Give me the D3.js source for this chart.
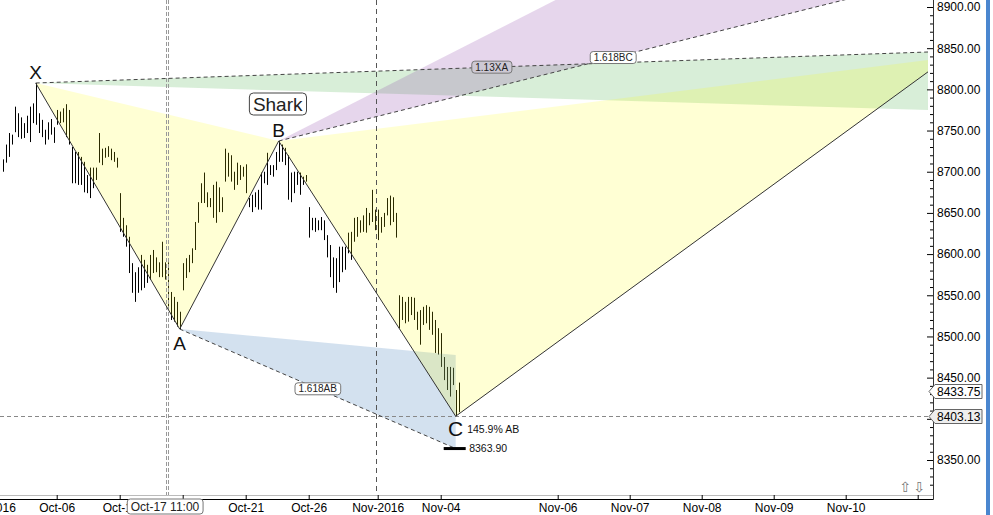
<!DOCTYPE html>
<html><head><meta charset="utf-8">
<script src="https://cdn.jsdelivr.net/npm/d3@7"></script>
<style>
body{margin:0;background:#fff;overflow:hidden;}
svg{display:block;font-family:"Liberation Sans",Arial,sans-serif;}
</style></head><body>
<svg id="chart" width="993" height="515"></svg>
<script>
// bar highs / lows (one bar every index)
const highs = [
8715,8733,8747,8745,8779,8771,8766,8759,8768,8779,
8783,8807.7,8771,8763,8751,8760,8764,8754,8775,8773,
8777,8782,8775,8730,8724,8724,8718,8712,8696,8705,
8705,8705,8747,8728,8729,8731,8728,8724,8717,8674,
8644,8635,8621,8589,8578,8584,8599,8593,8587,8599,
8605,8596,8590,8615,8590,8590,8554,8548,8542,8530,
8589,8595,8599,8607,8639,8663,8686,8699,8675,8668,
8684,8688,8681,8669,8728,8723,8720,8700,8711,8708,
8706,8709,8668,8672,8675,8678,8699,8700,8723,8708,
8708,8724,8737.3,8733,8729,8720,8699,8700,8700,8699,
8694,8696,8657,8644,8644,8641,8645,8641,8623,8611,
8596,8595,8609,8609,8609,8626,8627,8644,8645,8641,
8647,8656,8650,8678,8654,8654,8645,8650,8668,8671,
8669,8650,8550,8548,8542,8548,8548,8547,8530,8532,
8536,8538,8536,8530,8520,8510,8504,8475,8463,8463,
8462,8435,8444];
const lows = [
8700,8711,8718,8733,8748,8742,8740,8741,8747,8736,
8759,8757,8747,8742,8733,8739,8745,8735,8757,8759,
8760,8742,8733,8686,8686,8684,8684,8675,8674,8668,
8680,8690,8711,8708,8717,8718,8714,8712,8705,8627,
8621,8609,8577,8553,8542,8553,8556,8559,8565,8569,
8577,8578,8572,8572,8569,8536,8520,8518,8512,8509,
8556,8571,8578,8589,8605,8638,8662,8662,8657,8657,
8644,8638,8651,8651,8688,8694,8688,8678,8684,8690,
8694,8674,8657,8651,8657,8654,8654,8686,8684,8696,
8694,8702,8712,8712,8708,8666,8663,8674,8684,8672,
8684,8688,8620,8629,8627,8629,8629,8617,8596,8572,
8559,8553,8566,8578,8581,8601,8593,8615,8621,8626,
8627,8626,8635,8639,8629,8617,8626,8633,8647,8635,
8639,8620,8510,8520,8516,8518,8526,8520,8508,8490,
8514,8516,8508,8502,8480,8478,8463,8447,8435,8427,
8441,8403.13,8408];

// pattern points
const pointNames = ["X", "A", "B", "C"];
const pointIdx = [11, 59, 92, 151];
const pointPrice = [8807.7, 8509.0, 8737.3, 8403.13];
const dIdx = 315, dPrice = 8838.7;
const xaBand = [8846.2, 8774.2];   // 1.13XA band end (top, bottom)
const bcBand = [9151, 8940];       // 1.618BC band end
const abBand = [8477.5, 8363.9];   // 1.618AB band end at C
const lastClose = 8433.75;

const tickIdx = [-4, 18, 39, 60, 81, 102, 125, 146, 185, 209, 233, 257, 281, 305];
const tickLabels = ["Oct-2016", "Oct-06", "Oct-11", "Oct-17", "Oct-21", "Oct-26", "Nov-2016", "Nov-04",
  "Nov-06", "Nov-07", "Nov-08", "Nov-09", "Nov-10", ""];
const yTicks = d3.range(8350, 8901, 50);
const yMinor = d3.range(8320, 8911, 10).filter(v => v % 50 !== 0);

const svg = d3.select("#chart");
const x = d3.scaleLinear().domain([0, 308]).range([2.7, 926.7]);
const y = d3.scaleLinear().domain([8350, 8900]).range([460, 7]);

svg.append("defs").append("clipPath").attr("id", "plot")
  .append("rect").attr("x", 0).attr("y", 0).attr("width", 928).attr("height", 495);

const plot = svg.append("g").attr("clip-path", "url(#plot)");

// bars
plot.append("g").selectAll("line").data(highs).join("line")
  .attr("x1", (d, i) => Math.round(x(i)) + 0.5)
  .attr("x2", (d, i) => Math.round(x(i)) + 0.5)
  .attr("y1", d => y(d))
  .attr("y2", (d, i) => y(lows[i]))
  .attr("stroke", "#000").attr("stroke-width", 1);

const P = i => [x(pointIdx[i]), y(pointPrice[i])];
const D = [x(dIdx), y(dPrice)];
const poly = (pts, fill) => plot.append("polygon")
  .attr("points", pts.map(p => p.join(",")).join(" ")).attr("fill", fill);

poly([P(0), [x(dIdx), y(xaBand[0])], [x(dIdx), y(xaBand[1])]], "rgba(60,170,60,0.2)");
poly([P(2), [x(dIdx), y(bcBand[0])], [x(dIdx), y(bcBand[1])]], "rgba(140,70,170,0.22)");
poly([P(1), [x(pointIdx[3]), y(abBand[0])], [x(pointIdx[3]), y(abBand[1])]], "rgba(70,130,190,0.24)");
poly([P(0), P(1), P(2)], "rgba(255,255,0,0.17)");
poly([P(2), P(3), D], "rgba(255,255,0,0.17)");

// crosshair + separator
const dash = (x1, y1, x2, y2, col, da) => plot.append("line")
  .attr("x1", x1).attr("y1", y1).attr("x2", x2).attr("y2", y2)
  .attr("stroke", col).attr("stroke-dasharray", da);
dash(166.5, 0, 166.5, 495, "#999", "4,2");
dash(168.5, 0, 168.5, 495, "#999", "4,2");
dash(Math.round(x(124.5)) + 0.5, 0, Math.round(x(124.5)) + 0.5, 495, "#555", "5,4");
dash(0, Math.round(y(pointPrice[3])) + 0.5, 928, Math.round(y(pointPrice[3])) + 0.5, "#888", "4,3");

// pattern lines
plot.append("path")
  .attr("d", d3.line()([P(0), P(1), P(2), P(3), D]))
  .attr("fill", "none").attr("stroke", "#333").attr("stroke-width", 1);

const dashed = [
  [P(0), [x(dIdx), y(xaBand[0])], "1.13XA", "#cdc9d4"],
  [P(2), [x(dIdx), y(bcBand[1])], "1.618BC", "#fff"],
  [P(1), [x(pointIdx[3]), y(abBand[1])], "1.618AB", "#fff"]
];
dashed.forEach(([a, b]) => plot.append("line")
  .attr("x1", a[0]).attr("y1", a[1]).attr("x2", b[0]).attr("y2", b[1])
  .attr("stroke", "#444").attr("stroke-dasharray", "4,3"));

function boxLabel(cx, cy, txt, size, fill, stroke) {
  const g = svg.append("g");
  const t = g.append("text").attr("x", cx).attr("y", cy).attr("text-anchor", "middle")
    .attr("dominant-baseline", "central").attr("font-size", size).attr("fill", "#222").text(txt);
  const bb = t.node().getBBox();
  g.insert("rect", "text").attr("x", bb.x - 3.5).attr("y", bb.y - 0.5)
    .attr("width", bb.width + 7).attr("height", bb.height + 1)
    .attr("rx", 3).attr("fill", fill).attr("stroke", stroke);
  return g;
}
dashed.forEach(([a, b, txt, fill]) =>
  boxLabel((a[0] + b[0]) / 2, (a[1] + b[1]) / 2, txt, 10, fill, "#777"));

// point letters
const offs = [-4, 21, -4.5, 20];
pointNames.forEach((n, i) => svg.append("text")
  .attr("x", P(i)[0]).attr("y", P(i)[1] + offs[i])
  .attr("text-anchor", "middle").attr("font-size", i === 3 ? 21 : 19).attr("fill", "#111").text(n));

boxLabel(P(2)[0] - 1, 104, "Shark", 19, "#fff", "#444").select("rect").attr("rx", 4);

svg.append("text").attr("x", P(3)[0] + 11.5).attr("y", 433)
  .attr("font-size", 10.5).attr("fill", "#111").text("145.9% AB");
svg.append("line").attr("x1", P(3)[0] - 12).attr("x2", P(3)[0] + 10)
  .attr("y1", y(abBand[1])).attr("y2", y(abBand[1])).attr("stroke", "#000").attr("stroke-width", 3);
svg.append("text").attr("x", P(3)[0] + 13.5).attr("y", y(abBand[1]) + 3.8)
  .attr("font-size", 10.5).attr("fill", "#111").text(d3.format(".2f")(abBand[1]));

// bottom axis
svg.append("line").attr("x1", 0).attr("x2", 933).attr("y1", 495.5).attr("y2", 495.5).attr("stroke", "#bbb");
const xAxis = d3.axisBottom(x).tickValues(tickIdx).tickFormat((d, i) => tickLabels[i])
  .tickSizeInner(-4).tickSizeOuter(0).tickPadding(4);
const gx = svg.append("g").attr("transform", "translate(0,499)").call(xAxis);
gx.select(".domain").remove();
gx.append("line").attr("x1", 0).attr("x2", 933.5).attr("y1", 0.5).attr("y2", 0.5).attr("stroke", "#000");
gx.selectAll("text").attr("font-size", 12).attr("font-family", "Liberation Sans, Arial, sans-serif").attr("fill", "#000");

// highlighted crosshair time
boxLabel(165, 506.5, "Oct-17 11:00", 12, "#fff", "#777");

// right axis (8400 label sits under the C price flag)
const yAxis = d3.axisRight(y).tickValues(yTicks).tickFormat(d => d === 8400 ? "" : d3.format(".2f")(d))
  .tickSizeInner(-6).tickSizeOuter(0).tickPadding(4);
const gy = svg.append("g").attr("transform", "translate(933,0)").call(yAxis);
gy.select(".domain").remove();
gy.selectAll("text").attr("font-size", 12).attr("font-family", "Liberation Sans, Arial, sans-serif").attr("fill", "#000");
const gm = svg.append("g").attr("transform", "translate(933,0)")
  .call(d3.axisRight(y).tickValues(yMinor).tickFormat("").tickSizeInner(-3).tickSizeOuter(0));
gm.select(".domain").remove();
svg.append("line").attr("x1", 933.5).attr("x2", 933.5).attr("y1", 0).attr("y2", 499.5).attr("stroke", "#333");

// price flags
[[lastClose, "#fff"], [pointPrice[3], "#eee"]].forEach(([v, fill]) => {
  const yc = Math.round(y(v)) + 0.5;
  svg.append("path")
    .attr("d", `M929,${yc} L935,${yc - 7} H982 V${yc + 7} H935 Z`)
    .attr("fill", fill).attr("stroke", "#666");
  svg.append("text").attr("x", 937).attr("y", yc + 4.3).attr("font-size", 12)
    .attr("fill", "#000").text(d3.format(".2f")(v));
});

// scroll arrows and window edge
svg.append("text").attr("x", 905).attr("y", 492).attr("text-anchor", "middle")
  .attr("font-size", 14).attr("font-family", "DejaVu Sans").attr("fill", "#777").text("\u21E7");
svg.append("text").attr("x", 919).attr("y", 492).attr("text-anchor", "middle")
  .attr("font-size", 14).attr("font-family", "DejaVu Sans").attr("fill", "#777").text("\u21E9");
svg.append("rect").attr("x", 986).attr("y", 0).attr("width", 4).attr("height", 515).attr("fill", "#4a86cf");
</script>
</body></html>
